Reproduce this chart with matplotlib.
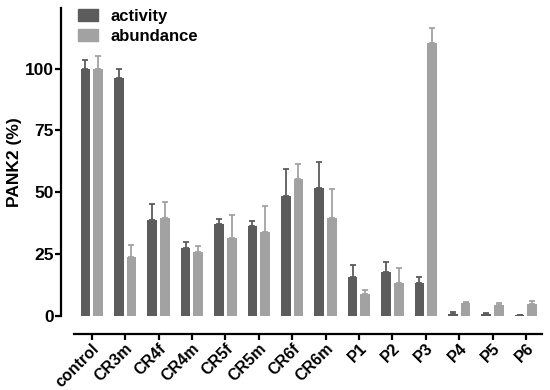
import numpy as np
import matplotlib
matplotlib.use("Agg")
import matplotlib.pyplot as plt
from matplotlib.patches import Patch

plt.rcParams['font.family'] = ['Liberation Sans', 'DejaVu Sans']
plt.rcParams['font.weight'] = 'bold'

groups = ['control', 'CR3m', 'CR4f', 'CR4m', 'CR5f', 'CR5m', 'CR6f', 'CR6m',
          'P1', 'P2', 'P3', 'P4', 'P5', 'P6']
activity = [100, 96.3, 38.9, 27.6, 37.3, 36.2, 48.5, 51.6, 15.8, 17.7, 13.3, 1.0, 0.7, 0.3]
activity_err = [3.5, 3.7, 6.4, 2.4, 2.1, 2.0, 10.8, 10.5, 4.7, 4.3, 2.5, 0.8, 0.4, 0.2]
abundance = [100, 23.8, 39.8, 26.0, 31.6, 34.0, 55.5, 39.8, 9.0, 13.3, 110.5, 5.1, 4.6, 5.0]
abundance_err = [5.1, 5.1, 6.4, 2.2, 9.1, 10.3, 5.9, 11.7, 1.4, 6.3, 6.1, 0.7, 0.5, 1.2]

dark = '#5c5c5c'
light = '#a2a2a2'

fig = plt.figure(figsize=(5.5, 3.9), dpi=100)
ax = fig.add_axes([61 / 550, (390 - 316) / 390, (542 - 61) / 550, (316 - 8) / 390])

x = np.arange(len(groups))
w = 0.29
off = 0.19
ax.bar(x - off, activity, w, color=dark, label='activity',
       yerr=[np.zeros(len(x)), activity_err], ecolor=dark,
       error_kw=dict(elinewidth=1.3, capsize=2.5, capthick=1.3))
ax.bar(x + off, abundance, w, color=light, label='abundance',
       yerr=[np.zeros(len(x)), abundance_err], ecolor=light,
       error_kw=dict(elinewidth=1.3, capsize=2.5, capthick=1.3))

ax.set_xlim(-0.92, 13.48)
ax.set_ylim(0, 124.5)

for s in ['top', 'right']:
    ax.spines[s].set_visible(False)
ax.spines['left'].set_linewidth(1.6)
ax.spines['bottom'].set_linewidth(1.6)
ax.spines['left'].set_bounds(0, 124.5)
ax.spines['bottom'].set_position(('outward', 13))
ax.spines['bottom'].set_bounds(-0.53, 13.48)

ax.set_yticks([0, 25, 50, 75, 100])
ax.tick_params(axis='y', length=4, width=1.6, labelsize=12.5, pad=1)
ax.tick_params(axis='x', length=4, width=1.6, labelsize=11.5, pad=1)
ax.set_xticks(x)
ax.set_xticklabels(groups, rotation=45, ha='right', rotation_mode='anchor')
for lbl in ax.get_xticklabels() + ax.get_yticklabels():
    lbl.set_fontweight('bold')

ax.set_ylabel('PANK2 (%)', fontsize=12.5, fontweight='bold')
ax.yaxis.set_label_coords(-0.081, 0.5)

handles = [Patch(color=dark), Patch(color=light)]
fig.legend(handles, ['activity', 'abundance'], loc='upper left',
           bbox_to_anchor=(78 / 550, 1 - 9 / 390), frameon=False, borderpad=0,
           borderaxespad=0, handlelength=1.2, handleheight=0.7, handletextpad=0.75,
           labelspacing=0.3, prop={'weight': 'bold', 'size': 12})

fig.savefig('out.png', dpi=100)
